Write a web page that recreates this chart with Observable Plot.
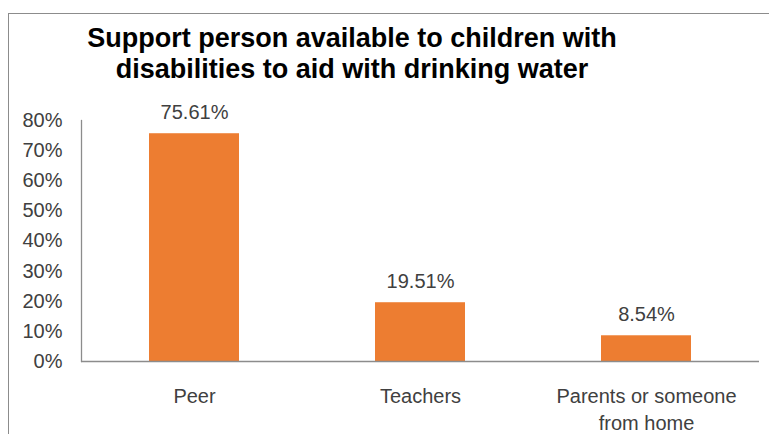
<!DOCTYPE html>
<html>
<head>
<meta charset="utf-8">
<script src="https://cdn.jsdelivr.net/npm/d3@7"></script>
<script src="https://cdn.jsdelivr.net/npm/@observablehq/plot@0.6"></script>
<style>
  html, body { margin: 0; padding: 0; background: #fff; }
  #wrap { position: relative; width: 769px; height: 434px; overflow: hidden; }
  #frame { position: absolute; left: 8px; top: 13px; right: -2px; bottom: -2px;
           border-top: 1.5px solid #8c8c8c; border-left: 1.5px solid #8c8c8c; pointer-events: none; }
  #title { width: 704px; height: 72.5px; padding-top: 22.5px; text-align: center;
           font-family: "Liberation Sans", Arial, sans-serif; font-weight: bold;
           font-size: 27px; line-height: 31px; color: #000; }
  #chart svg { display: block; }
</style>
</head>
<body>
<div id="wrap">
  <div id="title">Support person available to children with<br>disabilities to aid with drinking water</div>
  <div id="chart"></div>
  <div id="frame"></div>
</div>
<script>
const categories = ["Peer", "Teachers", "Parents or someone from home"];
const values = [0.7561, 0.1951, 0.0854];
const categoryLabels = ["Peer", "Teachers", "Parents or someone\nfrom home"];
const yTicks = [0, 0.1, 0.2, 0.3, 0.4, 0.5, 0.6, 0.7, 0.8];

const data = categories.map((c, i) => ({category: c, value: values[i]}));
const pct2 = d3.format(".2%");
const pct0 = d3.format(".0%");
const textColor = "#404040";

const chart = Plot.plot({
  width: 769,
  height: 339,
  marginLeft: 81,
  marginRight: 10,
  marginTop: 25,
  marginBottom: 73,
  style: {fontFamily: "'Liberation Sans', Arial, sans-serif", fontSize: "20px", color: textColor, background: "transparent"},
  x: {domain: categories, paddingInner: 0.6, paddingOuter: 0.3, label: null},
  y: {domain: [0, 0.8], label: null},
  marks: [
    Plot.barY(data, {x: "category", y: "value", fill: "#ED7D31"}),
    Plot.ruleY([0], {stroke: "#8c8c8c", strokeWidth: 1.3}),
    Plot.frame({anchor: "left", stroke: "#8c8c8c", strokeWidth: 1.3}),
    Plot.axisY({ticks: yTicks, tickFormat: pct0, tickSize: 0, tickPadding: 19, label: null, fill: textColor, fontSize: 20}),
    Plot.axisX({tickSize: 0, tickPadding: 22, label: null, lineHeight: 1.35, fill: textColor, fontSize: 20,
                tickFormat: d => categoryLabels[categories.indexOf(d)]}),
    Plot.text(data, {x: "category", y: "value", text: d => pct2(d.value), dy: -15, lineAnchor: "bottom", fill: textColor, fontSize: 20})
  ]
});
document.getElementById("chart").appendChild(chart);
</script>
</body>
</html>
